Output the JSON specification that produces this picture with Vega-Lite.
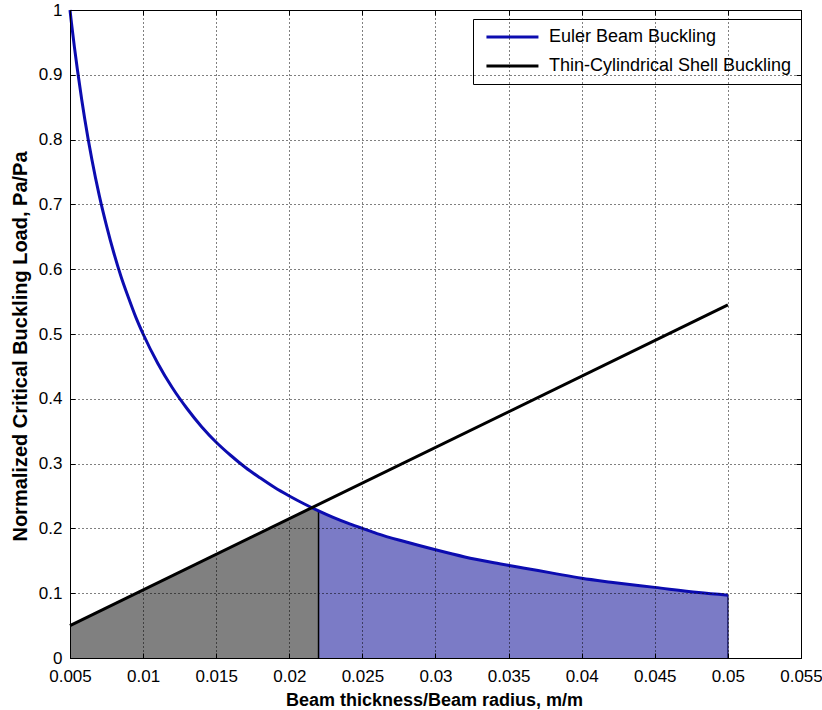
{
  "$schema": "https://vega.github.io/schema/vega-lite/v6.json",
  "width": 731,
  "height": 648,
  "autosize": "none",
  "padding": {"left": 70, "top": 10, "right": 21, "bottom": 52},
  "background": "white",
  "config": {"view": {"stroke": "black", "strokeWidth": 1}, "font": "Liberation Sans"},
  "datasets": {
    "euler": [
      {"x": 0.005, "y": 1.0, "s": "Euler Beam Buckling"},
      {"x": 0.0051, "y": 0.98, "s": "Euler Beam Buckling"},
      {"x": 0.0053, "y": 0.943, "s": "Euler Beam Buckling"},
      {"x": 0.0055, "y": 0.909, "s": "Euler Beam Buckling"},
      {"x": 0.0058, "y": 0.862, "s": "Euler Beam Buckling"},
      {"x": 0.006, "y": 0.833, "s": "Euler Beam Buckling"},
      {"x": 0.0065, "y": 0.769, "s": "Euler Beam Buckling"},
      {"x": 0.007, "y": 0.714, "s": "Euler Beam Buckling"},
      {"x": 0.0075, "y": 0.667, "s": "Euler Beam Buckling"},
      {"x": 0.008, "y": 0.625, "s": "Euler Beam Buckling"},
      {"x": 0.0085, "y": 0.588, "s": "Euler Beam Buckling"},
      {"x": 0.009, "y": 0.556, "s": "Euler Beam Buckling"},
      {"x": 0.0095, "y": 0.526, "s": "Euler Beam Buckling"},
      {"x": 0.01, "y": 0.5, "s": "Euler Beam Buckling"},
      {"x": 0.011, "y": 0.455, "s": "Euler Beam Buckling"},
      {"x": 0.012, "y": 0.417, "s": "Euler Beam Buckling"},
      {"x": 0.013, "y": 0.385, "s": "Euler Beam Buckling"},
      {"x": 0.014, "y": 0.357, "s": "Euler Beam Buckling"},
      {"x": 0.015, "y": 0.333, "s": "Euler Beam Buckling"},
      {"x": 0.016, "y": 0.3125, "s": "Euler Beam Buckling"},
      {"x": 0.017, "y": 0.294, "s": "Euler Beam Buckling"},
      {"x": 0.018, "y": 0.278, "s": "Euler Beam Buckling"},
      {"x": 0.019, "y": 0.263, "s": "Euler Beam Buckling"},
      {"x": 0.02, "y": 0.25, "s": "Euler Beam Buckling"},
      {"x": 0.021, "y": 0.238, "s": "Euler Beam Buckling"},
      {"x": 0.022, "y": 0.227, "s": "Euler Beam Buckling"},
      {"x": 0.023, "y": 0.217, "s": "Euler Beam Buckling"},
      {"x": 0.024, "y": 0.208, "s": "Euler Beam Buckling"},
      {"x": 0.025, "y": 0.2, "s": "Euler Beam Buckling"},
      {"x": 0.026, "y": 0.192, "s": "Euler Beam Buckling"},
      {"x": 0.028, "y": 0.179, "s": "Euler Beam Buckling"},
      {"x": 0.03, "y": 0.167, "s": "Euler Beam Buckling"},
      {"x": 0.032, "y": 0.156, "s": "Euler Beam Buckling"},
      {"x": 0.034, "y": 0.147, "s": "Euler Beam Buckling"},
      {"x": 0.036, "y": 0.139, "s": "Euler Beam Buckling"},
      {"x": 0.038, "y": 0.131, "s": "Euler Beam Buckling"},
      {"x": 0.04, "y": 0.123, "s": "Euler Beam Buckling"},
      {"x": 0.042, "y": 0.117, "s": "Euler Beam Buckling"},
      {"x": 0.045, "y": 0.109, "s": "Euler Beam Buckling"},
      {"x": 0.048, "y": 0.101, "s": "Euler Beam Buckling"},
      {"x": 0.05, "y": 0.097, "s": "Euler Beam Buckling"}
    ],
    "shell": [
      {"x": 0.005, "y": 0.05, "s": "Thin-Cylindrical Shell Buckling"},
      {"x": 0.05, "y": 0.545, "s": "Thin-Cylindrical Shell Buckling"}
    ],
    "grey": [
      {"x": 0.005, "y": 0.05},
      {"x": 0.0215, "y": 0.2315},
      {"x": 0.022, "y": 0.227}
    ],
    "blue": [
      {"x": 0.022, "y": 0.227},
      {"x": 0.023, "y": 0.217},
      {"x": 0.024, "y": 0.208},
      {"x": 0.025, "y": 0.2},
      {"x": 0.026, "y": 0.192},
      {"x": 0.028, "y": 0.179},
      {"x": 0.03, "y": 0.167},
      {"x": 0.032, "y": 0.156},
      {"x": 0.034, "y": 0.147},
      {"x": 0.036, "y": 0.139},
      {"x": 0.038, "y": 0.131},
      {"x": 0.04, "y": 0.123},
      {"x": 0.042, "y": 0.117},
      {"x": 0.045, "y": 0.109},
      {"x": 0.048, "y": 0.101},
      {"x": 0.05, "y": 0.097}
    ],
    "cut": [{"x": 0.022, "y": 0, "y2": 0.227}],
    "edge": [{"x": 0.05, "y": 0, "y2": 0.097}]
  },
  "resolve": {"axis": {"x": "independent", "y": "independent"}},
  "layer": [
    {
      "data": {"name": "grey"},
      "mark": {"type": "area", "color": "#808080", "opacity": 1},
      "encoding": {
        "x": {"field": "x", "type": "quantitative",
          "scale": {"domain": [0.005, 0.055], "nice": false, "zero": false},
          "axis": {"orient": "bottom", "values": [0.005, 0.01, 0.015, 0.02, 0.025, 0.03, 0.035, 0.04, 0.045, 0.05, 0.055],
            "format": "~g", "grid": true, "gridColor": "#000", "gridDash": [1, 3], "gridOpacity": 1, "gridWidth": 1,
            "domain": true, "domainColor": "#000", "domainWidth": 1,
            "ticks": true, "tickSize": -5, "tickColor": "#000", "tickWidth": 1,
            "labelPadding": 15, "labelFontSize": 17, "labelColor": "#000", "labelFont": "Liberation Sans",
            "labelFlush": false, "labelOverlap": false,
            "title": "Beam thickness/Beam radius, m/m", "titleFont": "Liberation Sans", "titleFontSize": 18, "titleFontWeight": "bold", "titleColor": "#000",
            "titleX": 364, "titleY": 42, "titleBaseline": "middle", "titleAlign": "center", "zindex": 1}},
        "y": {"field": "y", "type": "quantitative",
          "scale": {"domain": [0, 1], "nice": false, "zero": false},
          "axis": {"orient": "left", "values": [0, 0.1, 0.2, 0.3, 0.4, 0.5, 0.6, 0.7, 0.8, 0.9, 1],
            "format": "~g", "grid": true, "gridColor": "#000", "gridDash": [1, 3], "gridOpacity": 1, "gridWidth": 1,
            "domain": true, "domainColor": "#000", "domainWidth": 1,
            "ticks": true, "tickSize": -5, "tickColor": "#000", "tickWidth": 1,
            "labelPadding": 13, "labelFontSize": 17, "labelColor": "#000", "labelFont": "Liberation Sans",
            "labelFlush": false, "labelOverlap": false, "labelBaseline": "middle",
            "title": "Normalized Critical Buckling Load, Pa/Pa", "titleFont": "Liberation Sans", "titleFontSize": 20, "titleFontWeight": "bold", "titleColor": "#000",
            "titleX": -50, "titleY": 336, "titleAngle": 270, "titleBaseline": "middle", "titleAlign": "center", "zindex": 1}}
      }
    },
    {
      "data": {"name": "blue"},
      "mark": {"type": "area", "color": "#7b7bc6", "opacity": 1, "interpolate": "monotone"},
      "encoding": {
        "x": {"field": "x", "type": "quantitative",
          "scale": {"domain": [0.005, 0.055], "nice": false, "zero": false},
          "axis": {"orient": "top", "values": [0.005, 0.01, 0.015, 0.02, 0.025, 0.03, 0.035, 0.04, 0.045, 0.05, 0.055],
            "labels": false, "grid": false, "domain": true, "domainColor": "#000",
            "ticks": true, "tickSize": -5, "tickColor": "#000", "tickWidth": 1, "title": null, "zindex": 1}},
        "y": {"field": "y", "type": "quantitative",
          "scale": {"domain": [0, 1], "nice": false, "zero": false},
          "axis": {"orient": "right", "values": [0, 0.1, 0.2, 0.3, 0.4, 0.5, 0.6, 0.7, 0.8, 0.9, 1],
            "labels": false, "grid": false, "domain": true, "domainColor": "#000",
            "ticks": true, "tickSize": -5, "tickColor": "#000", "tickWidth": 1, "title": null, "zindex": 1}}
      }
    },
    {
      "data": {"name": "cut"},
      "mark": {"type": "rule", "color": "#000", "strokeWidth": 1.5},
      "encoding": {
        "x": {"field": "x", "type": "quantitative", "scale": {"domain": [0.005, 0.055], "nice": false, "zero": false}, "axis": null},
        "y": {"field": "y", "type": "quantitative", "scale": {"domain": [0, 1], "nice": false, "zero": false}, "axis": null},
        "y2": {"field": "y2"}
      }
    },
    {
      "data": {"name": "edge"},
      "mark": {"type": "rule", "color": "#1c1c6e", "strokeWidth": 1.5},
      "encoding": {
        "x": {"field": "x", "type": "quantitative", "scale": {"domain": [0.005, 0.055], "nice": false, "zero": false}, "axis": null},
        "y": {"field": "y", "type": "quantitative", "scale": {"domain": [0, 1], "nice": false, "zero": false}, "axis": null},
        "y2": {"field": "y2"}
      }
    },
    {
      "data": {"name": "euler"},
      "mark": {"type": "line", "strokeWidth": 3, "interpolate": "monotone"},
      "encoding": {
        "x": {"field": "x", "type": "quantitative", "scale": {"domain": [0.005, 0.055], "nice": false, "zero": false}, "axis": null},
        "y": {"field": "y", "type": "quantitative", "scale": {"domain": [0, 1], "nice": false, "zero": false}, "axis": null},
        "color": {"field": "s", "type": "nominal",
          "scale": {"domain": ["Euler Beam Buckling", "Thin-Cylindrical Shell Buckling"], "range": ["#0c0cb0", "#000000"]},
          "legend": {"orient": "none", "legendX": 403, "legendY": 9, "title": null,
            "strokeColor": "#000", "fillColor": "#fff", "padding": 9, "rowPadding": 11,
            "symbolType": "M-0.7,0H7.3", "symbolSize": 169, "symbolStrokeWidth": 3,
            "labelFontSize": 18, "labelFont": "Liberation Sans", "labelColor": "#000", "labelOffset": 49, "labelLimit": 400}}
      }
    },
    {
      "data": {"name": "shell"},
      "mark": {"type": "line", "strokeWidth": 3},
      "encoding": {
        "x": {"field": "x", "type": "quantitative", "scale": {"domain": [0.005, 0.055], "nice": false, "zero": false}, "axis": null},
        "y": {"field": "y", "type": "quantitative", "scale": {"domain": [0, 1], "nice": false, "zero": false}, "axis": null},
        "color": {"field": "s", "type": "nominal",
          "scale": {"domain": ["Euler Beam Buckling", "Thin-Cylindrical Shell Buckling"], "range": ["#0c0cb0", "#000000"]}}
      }
    }
  ]
}
